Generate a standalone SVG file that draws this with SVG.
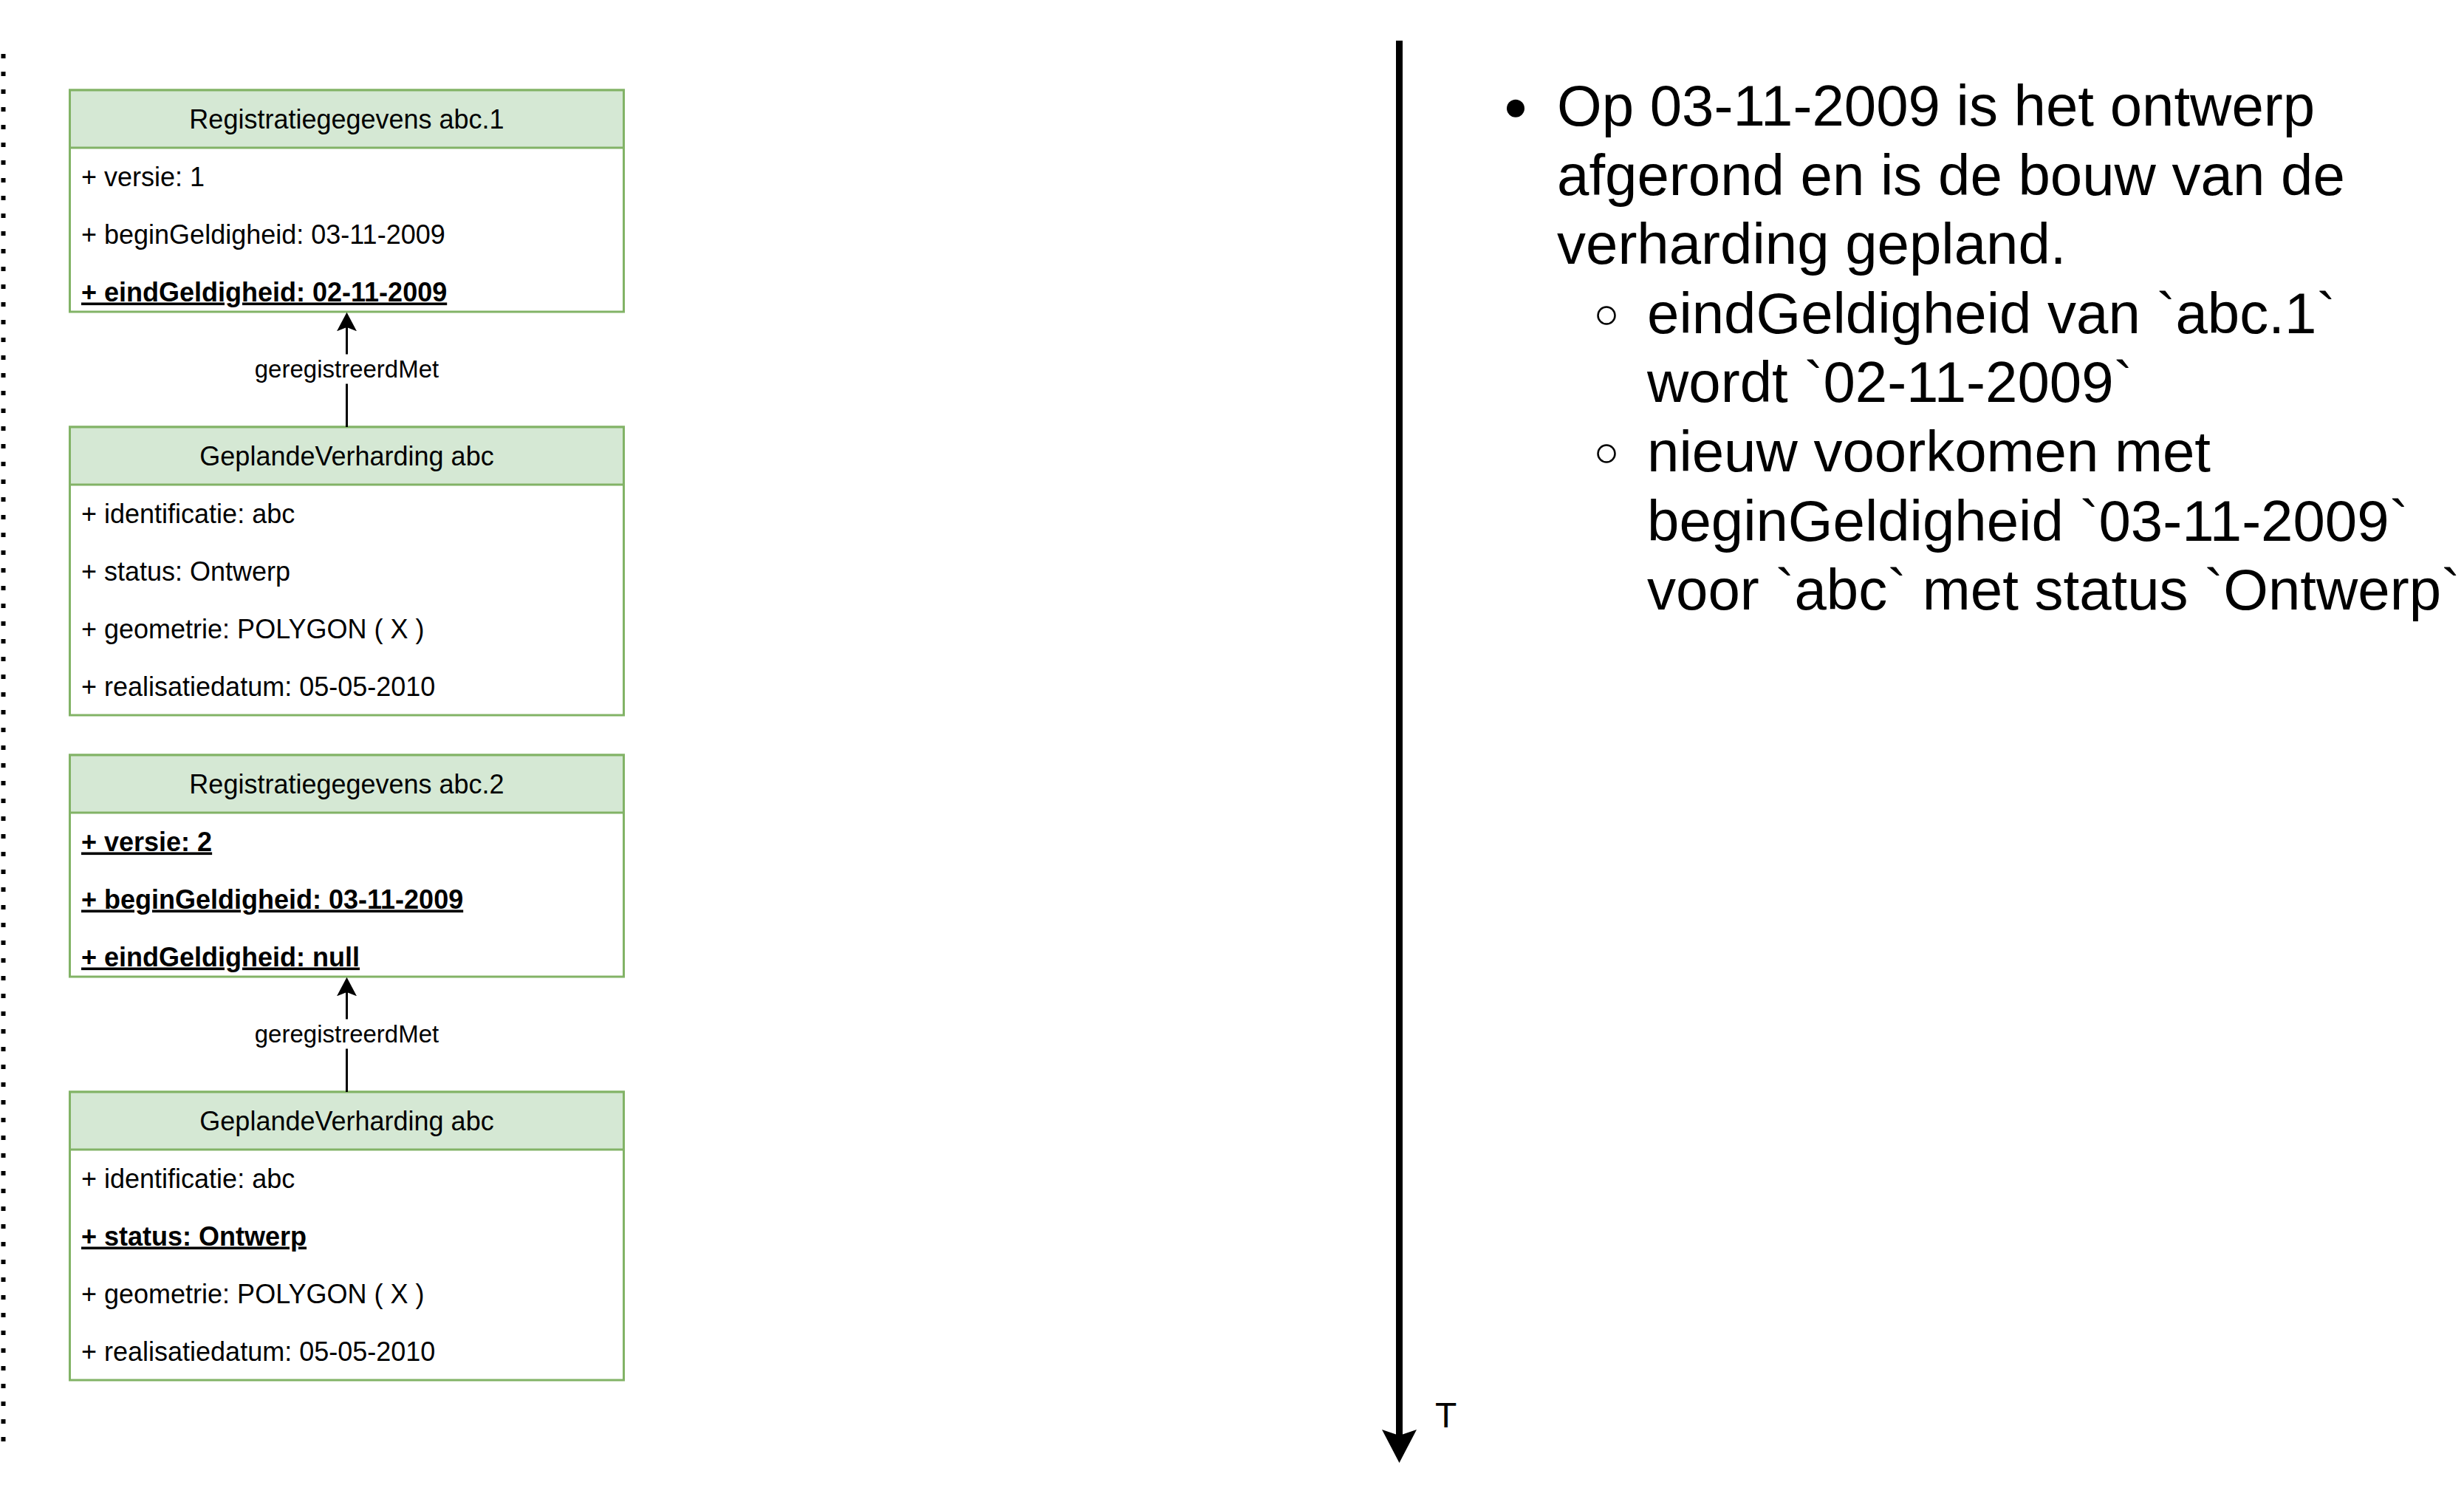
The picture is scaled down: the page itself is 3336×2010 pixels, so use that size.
<svg xmlns="http://www.w3.org/2000/svg" width="3336" height="2010" viewBox="0 0 3336 2010">
<style>
.body{fill:#ffffff;stroke:#82b366;stroke-width:3}
.head{fill:#d5e8d4;stroke:#82b366;stroke-width:3}
.title{font-family:"Liberation Sans",Arial,sans-serif;font-size:36px;fill:#000;text-anchor:middle}
.attr{font-family:"Liberation Sans",Arial,sans-serif;font-size:36px;fill:#000}
.key{font-weight:bold;text-decoration:underline}
.edge{stroke:#000;stroke-width:3;fill:none}
.elabel{font-family:"Liberation Sans",Arial,sans-serif;font-size:33px;fill:#000;text-anchor:middle}
.note{font-family:"Liberation Sans",Arial,sans-serif;font-size:78px;fill:#000}
.sub{fill:none;stroke:#000;stroke-width:2.5}
</style>
<defs>
<marker id="arrow" markerUnits="userSpaceOnUse" viewBox="0 0 26 27" refX="5.3" refY="13.5" markerWidth="26" markerHeight="27" orient="auto">
<path d="M0,0 L25.6,13.5 L0,27 L5.3,13.5 Z" fill="#000"/>
</marker>
<marker id="arrowBig" markerUnits="userSpaceOnUse" viewBox="0 0 45 47" refX="8" refY="23.5" markerWidth="45" markerHeight="47" orient="auto">
<path d="M0,0 L45,23.5 L0,47 L8,23.5 Z" fill="#000"/>
</marker>
</defs>
<rect x="0" y="0" width="3336" height="2010" fill="#ffffff"/>

<g id="divider">
<line x1="4.5" y1="73" x2="4.5" y2="1952" stroke="#000" stroke-width="6" stroke-dasharray="6 18"/>
</g>

<g id="timeline">
<line x1="1894.5" y1="55" x2="1894.5" y2="1943" stroke="#000" stroke-width="9" marker-end="url(#arrowBig)"/>
<text x="1943" y="1932" font-family="Liberation Sans, Arial, sans-serif" font-size="48" fill="#000">T</text>
</g>

<g id="registratie-abc1">
<rect class="body" x="94.5" y="122" width="750" height="300"/>
<rect class="head" x="94.5" y="122" width="750" height="78"/>
<text class="title" x="469.5" y="173.5">Registratiegegevens abc.1</text>
<text class="attr" x="110" y="251.5">+ versie: 1</text>
<text class="attr" x="110" y="329.5">+ beginGeldigheid: 03-11-2009</text>
<text class="attr key" x="110" y="407.5">+ eindGeldigheid: 02-11-2009</text>
</g>

<g id="geplande-verharding-1">
<rect class="body" x="94.5" y="578" width="750" height="390"/>
<rect class="head" x="94.5" y="578" width="750" height="78"/>
<text class="title" x="469.5" y="629.5">GeplandeVerharding abc</text>
<text class="attr" x="110" y="707.5">+ identificatie: abc</text>
<text class="attr" x="110" y="785.5">+ status: Ontwerp</text>
<text class="attr" x="110" y="863.5">+ geometrie: POLYGON ( X )</text>
<text class="attr" x="110" y="941.5">+ realisatiedatum: 05-05-2010</text>
</g>

<g id="registratie-abc2">
<rect class="body" x="94.5" y="1022" width="750" height="300"/>
<rect class="head" x="94.5" y="1022" width="750" height="78"/>
<text class="title" x="469.5" y="1073.5">Registratiegegevens abc.2</text>
<text class="attr key" x="110" y="1151.5">+ versie: 2</text>
<text class="attr key" x="110" y="1229.5">+ beginGeldigheid: 03-11-2009</text>
<text class="attr key" x="110" y="1307.5">+ eindGeldigheid: null</text>
</g>

<g id="geplande-verharding-2">
<rect class="body" x="94.5" y="1478" width="750" height="390"/>
<rect class="head" x="94.5" y="1478" width="750" height="78"/>
<text class="title" x="469.5" y="1529.5">GeplandeVerharding abc</text>
<text class="attr" x="110" y="1607.5">+ identificatie: abc</text>
<text class="attr key" x="110" y="1685.5">+ status: Ontwerp</text>
<text class="attr" x="110" y="1763.5">+ geometrie: POLYGON ( X )</text>
<text class="attr" x="110" y="1841.5">+ realisatiedatum: 05-05-2010</text>
</g>

<g id="connectors">
<line class="edge" x1="469.5" y1="578" x2="469.5" y2="519.5"/>
<line class="edge" x1="469.5" y1="479.5" x2="469.5" y2="443" marker-end="url(#arrow)"/>
<text class="elabel" x="469.5" y="510.5">geregistreerdMet</text>
<line class="edge" x1="469.5" y1="1478" x2="469.5" y2="1419.5"/>
<line class="edge" x1="469.5" y1="1379.5" x2="469.5" y2="1343" marker-end="url(#arrow)"/>
<text class="elabel" x="469.5" y="1410.5">geregistreerdMet</text>
</g>

<g id="notes">
<circle cx="2052" cy="146.7" r="12" fill="#000"/>
<text class="note" x="2108" y="170">Op 03-11-2009 is het ontwerp</text>
<text class="note" x="2108" y="263.6">afgerond en is de bouw van de</text>
<text class="note" x="2108" y="357.2">verharding gepland.</text>
<circle class="sub" cx="2175" cy="427" r="11.5"/>
<text class="note" x="2230" y="450.8">eindGeldigheid van `abc.1`</text>
<text class="note" x="2230" y="544.4">wordt `02-11-2009`</text>
<circle class="sub" cx="2175" cy="614" r="11.5"/>
<text class="note" x="2230" y="638">nieuw voorkomen met</text>
<text class="note" x="2230" y="731.6">beginGeldigheid `03-11-2009`</text>
<text class="note" x="2230" y="825.2">voor `abc` met status `Ontwerp`</text>
</g>
</svg>
